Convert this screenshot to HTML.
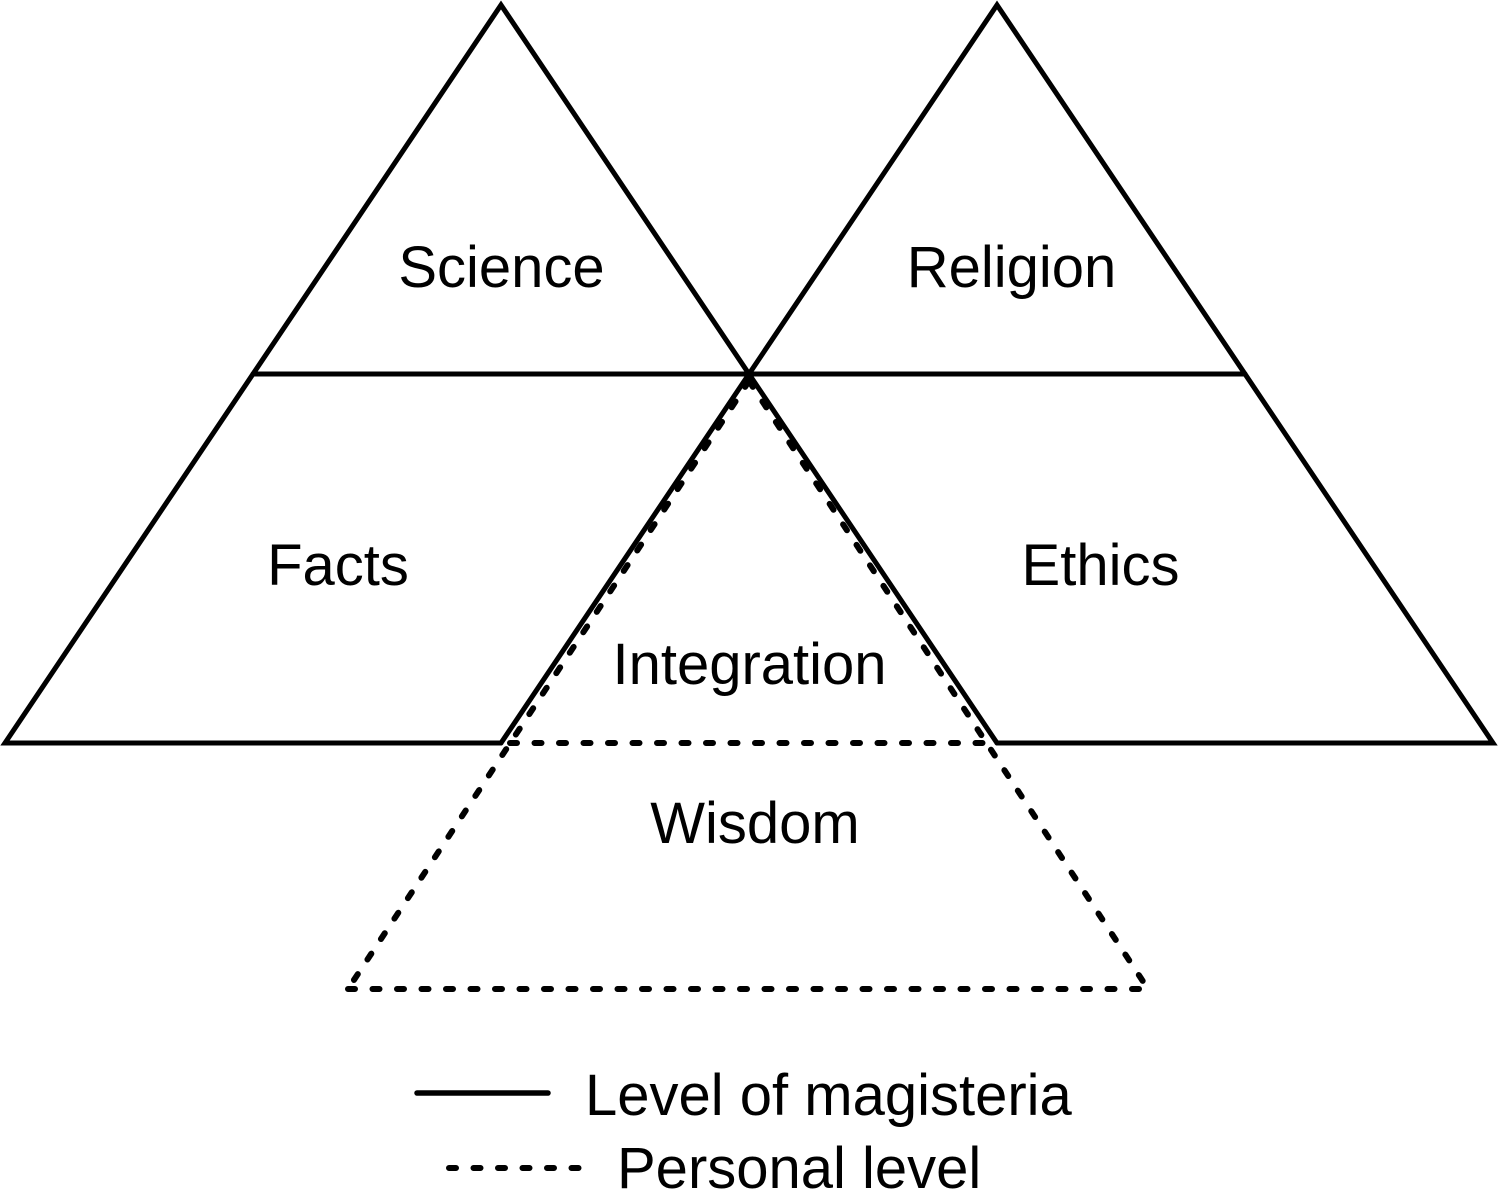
<!DOCTYPE html>
<html>
<head>
<meta charset="utf-8">
<style>
  html, body { margin: 0; padding: 0; background: #fff; }
  svg { display: block; }
  text { font-family: "Liberation Sans", Arial, sans-serif; font-size: 58px; fill: #000; }
</style>
</head>
<body>
<svg width="1500" height="1193" viewBox="0 0 1500 1193" xmlns="http://www.w3.org/2000/svg">
  <rect width="1500" height="1193" fill="#fff"/>
  <g fill="none" stroke="#000" stroke-width="5" stroke-linejoin="miter" stroke-linecap="round">
    <!-- Left triangle -->
    <polyline points="501,743 5,743 501,5 997,743"/>
    <!-- Right triangle -->
    <polyline points="997,743 1493,743 997,5 501,743"/>
    <!-- Horizontal division -->
    <line x1="253" y1="374" x2="1245" y2="374"/>
  </g>
  <g fill="none" stroke="#000" stroke-width="6" stroke-linecap="round" stroke-dasharray="7 17.5">
    <!-- Dashed personal triangle -->
    <line x1="749" y1="381" x2="348" y2="989"/>
    <line x1="749" y1="381" x2="1148" y2="989"/>
    <line x1="348" y1="989" x2="1148" y2="989"/>
    <!-- Dashed inner base -->
    <line x1="510" y1="743" x2="990" y2="743"/>
    <!-- Legend dashed -->
    <line x1="449" y1="1168" x2="582" y2="1168"/>
  </g>
  <!-- Legend solid -->
  <line x1="417" y1="1093" x2="548" y2="1093" stroke="#000" stroke-width="5.5" stroke-linecap="round"/>

  <text x="501.5" y="287" text-anchor="middle">Science</text>
  <text x="1011.5" y="287" text-anchor="middle">Religion</text>
  <text x="338" y="585" text-anchor="middle">Facts</text>
  <text x="1100.5" y="585" text-anchor="middle">Ethics</text>
  <text x="749.5" y="684" text-anchor="middle">Integration</text>
  <text x="755" y="843" text-anchor="middle">Wisdom</text>
  <text x="585" y="1115">Level of magisteria</text>
  <text x="617" y="1188">Personal level</text>
</svg>
</body>
</html>
